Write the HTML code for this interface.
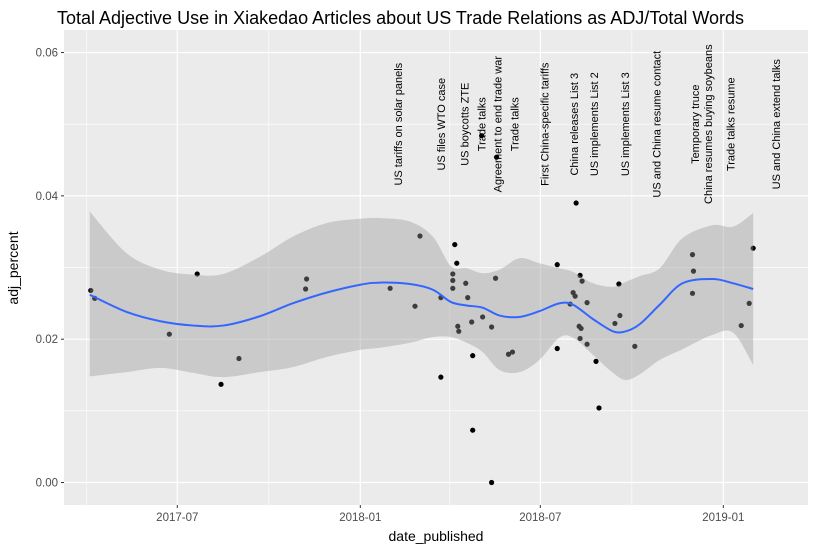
<!DOCTYPE html>
<html><head><meta charset="utf-8"><style>
body{margin:0;background:#fff;}
svg{display:block;font-family:"Liberation Sans",Arial,sans-serif;}
</style></head><body>
<svg id="chart" width="816" height="550">
<text x="57" y="24" font-size="18" fill="#000">Total Adjective Use in Xiakedao Articles about US Trade Relations as ADJ/Total Words</text>
<rect x="64" y="30" width="744" height="475" fill="#ebebeb"/>
<g id="grid"></g><g id="axes"></g><g id="points"></g><g id="smooth"></g><g id="annots"></g>
<text x="436" y="541" font-size="14" text-anchor="middle" fill="#000">date_published</text>
<text transform="translate(18,268) rotate(-90)" font-size="14" text-anchor="middle" fill="#000">adj_percent</text>
</svg>
<script>
const pointDates=["2017-04-05","2017-04-09","2017-07-21","2017-06-23","2017-09-01","2017-08-14","2017-11-08","2017-11-07","2018-01-31","2018-03-02","2018-02-25","2018-03-23","2018-03-23","2018-04-06","2018-04-08","2018-04-04","2018-04-04","2018-04-04","2018-04-17","2018-04-19","2018-04-09","2018-04-10","2018-04-23","2018-04-24","2018-05-04","2018-05-13","2018-05-17","2018-05-30","2018-06-03","2018-04-24","2018-05-13","2018-05-03","2018-05-18","2018-07-18","2018-07-18","2018-08-06","2018-08-10","2018-08-12","2018-08-03","2018-08-05","2018-07-31","2018-08-17","2018-08-09","2018-08-11","2018-08-10","2018-08-17","2018-08-26","2018-08-29","2018-09-18","2018-09-19","2018-09-14","2018-10-04","2018-12-01","2018-12-02","2018-12-01","2019-01-27","2019-01-19","2019-01-31"];
const pointValues=[0.0268,0.0257,0.0291,0.0207,0.0173,0.0137,0.0284,0.0270,0.0271,0.0344,0.0246,0.0147,0.0258,0.0332,0.0306,0.0291,0.0282,0.0271,0.0278,0.0258,0.0218,0.0211,0.0224,0.0177,0.0231,0.0217,0.0285,0.0179,0.0182,0.0073,0.0000,0.0484,0.0454,0.0304,0.0187,0.0390,0.0289,0.0281,0.0265,0.0260,0.0249,0.0251,0.0218,0.0215,0.0201,0.0193,0.0169,0.0104,0.0277,0.0233,0.0222,0.0190,0.0318,0.0295,0.0264,0.0250,0.0219,0.0327];
const smoothDates=["2017-04-04","2017-05-11","2017-06-14","2017-07-17","2017-08-16","2017-09-22","2017-10-25","2017-11-28","2018-01-01","2018-01-21","2018-02-20","2018-03-15","2018-04-02","2018-04-18","2018-05-04","2018-05-21","2018-06-10","2018-06-30","2018-07-20","2018-08-03","2018-08-23","2018-09-12","2018-09-25","2018-10-09","2018-10-29","2018-11-21","2018-12-21","2019-01-11","2019-01-31"];
const smoothFit=[.0262,.0238,.0225,.0219,.0219,.0232,.0250,.0265,.0276,.0279,.0277,.0269,.0252,.0247,.0244,.0233,.0231,.0239,.0250,.0248,.0228,.0211,.0211,.0221,.0248,.0278,.0284,.0278,.0270];
const smoothHi=[.0378,.0320,.0297,.0290,.0291,.0315,.0343,.0362,.0368,.0369,.0364,.0343,.0302,.0299,.0292,.0297,.0313,.0306,.0299,.0294,.0278,.0273,.0280,.0288,.0299,.0341,.0359,.0357,.0376];
const smoothLo=[.0148,.0154,.0160,.0153,.0147,.0154,.0161,.0175,.0185,.0188,.0195,.0203,.0203,.0195,.0182,.0157,.0154,.0171,.0202,.0202,.0178,.0153,.0143,.0151,.0171,.0186,.0206,.0209,.0164];
const annotDates=["2018-02-08","2018-03-23","2018-04-16","2018-05-03","2018-05-19","2018-06-05","2018-07-05","2018-08-04","2018-08-24","2018-09-24","2018-10-26","2018-12-10","2019-01-08","2019-02-23"];
const annotLabels=["US tariffs on solar panels","US files WTO case","US boycotts ZTE","Trade talks","Agreement to end trade war","Trade talks","First China-specific tariffs","China releases List 3","US implements List 2","US implements List 3","US and China resume contact","Temporary truce\nChina resumes buying soybeans","Trade talks resume","US and China extend talks"];
const annotY=0.05;
const yTicks=[0,0.02,0.04,0.06];
const yTickLabels=["0.00","0.02","0.04","0.06"];
const yMinor=[0.01,0.03,0.05];
const xTicks=["2017-07-01","2018-01-01","2018-07-01","2019-01-01"];
const xTickLabels=["2017-07","2018-01","2018-07","2019-01"];
const xMinor=["2017-04-01","2017-10-01","2018-04-01","2018-10-01"];

const NS="http://www.w3.org/2000/svg";
const base=Date.UTC(2018,0,1);
function days(s){const p=s.split("-");return (Date.UTC(+p[0],+p[1]-1,+p[2])-base)/86400000;}
function X(s){return 360.3+days(s)*0.9946;}
function Y(v){return 482.5-v*7166;}
function mk(tag,attrs,parent){const e=document.createElementNS(NS,tag);for(const k in attrs)e.setAttribute(k,attrs[k]);parent.appendChild(e);return e;}
function curve(pts,move){let d=move?"M"+pts[0][0]+","+pts[0][1]:"L"+pts[0][0]+","+pts[0][1];
for(let i=0;i<pts.length-1;i++){const p0=pts[Math.max(0,i-1)],p1=pts[i],p2=pts[i+1],p3=pts[Math.min(pts.length-1,i+2)];
const c1x=p1[0]+(p2[0]-p0[0])/6,c1y=p1[1]+(p2[1]-p0[1])/6,c2x=p2[0]-(p3[0]-p1[0])/6,c2y=p2[1]-(p3[1]-p1[1])/6;
d+="C"+c1x+","+c1y+" "+c2x+","+c2y+" "+p2[0]+","+p2[1];}return d;}
const g=document.getElementById("grid"),ax=document.getElementById("axes");
yMinor.forEach(v=>{const l=mk("line",{x1:64,x2:808,y1:Y(v),y2:Y(v),stroke:"#fff","stroke-width":0.6},g);

});
xMinor.forEach(d=>{const l=mk("line",{x1:X(d),x2:X(d),y1:30,y2:505,stroke:"#fff","stroke-width":0.6},g);

});
yTicks.forEach((v,i)=>{const l=mk("line",{x1:64,x2:808,y1:Y(v),y2:Y(v),stroke:"#fff","stroke-width":1.2},g);


const t=mk("line",{x1:61,x2:64,y1:Y(v),y2:Y(v),stroke:"#333","stroke-width":1},ax);


const tx=mk("text",{x:58,y:Y(v)+4,"font-size":11.5,"text-anchor":"end",fill:"#4d4d4d"},ax);tx.textContent=yTickLabels[i];

});
xTicks.forEach((d,i)=>{const l=mk("line",{x1:X(d),x2:X(d),y1:30,y2:505,stroke:"#fff","stroke-width":1.2},g);


const t=mk("line",{x1:X(d),x2:X(d),y1:505,y2:508,stroke:"#333","stroke-width":1},ax);


const tx=mk("text",{x:X(d),y:521,"font-size":11.5,"text-anchor":"middle",fill:"#4d4d4d"},ax);tx.textContent=xTickLabels[i];

});
const pg=document.getElementById("points");
pointDates.forEach((d,i)=>{const c=mk("circle",{cx:X(d),cy:Y(pointValues[i]),r:2.6,fill:"#000"},pg);

});
const sg=document.getElementById("smooth");
const hiPts=smoothDates.map((d,i)=>[X(d),Y(smoothHi[i])]);
const loPts=smoothDates.map((d,i)=>[X(d),Y(smoothLo[i])]).reverse();
const b=mk("path",{d:curve(hiPts,true)+curve(loPts,false)+"Z",fill:"#999","fill-opacity":0.4},sg);


const fitPts=smoothDates.map((d,i)=>[X(d),Y(smoothFit[i])]);
const ln=mk("path",{d:curve(fitPts,true),fill:"none",stroke:"#3366ff","stroke-width":2,"stroke-linejoin":"round"},sg);


const ag=document.getElementById("annots");
annotDates.forEach((d,i)=>{const lines=annotLabels[i].split("\n");const n=lines.length;
lines.forEach((s,j)=>{const xx=X(d)+(j-(n-1)/2)*13.3+4;
const t=mk("text",{transform:"translate("+xx+","+Y(annotY)+") rotate(-90)","font-size":11,"text-anchor":"middle",fill:"#000"},ag);t.textContent=s;

});});
</script>
</body></html>
